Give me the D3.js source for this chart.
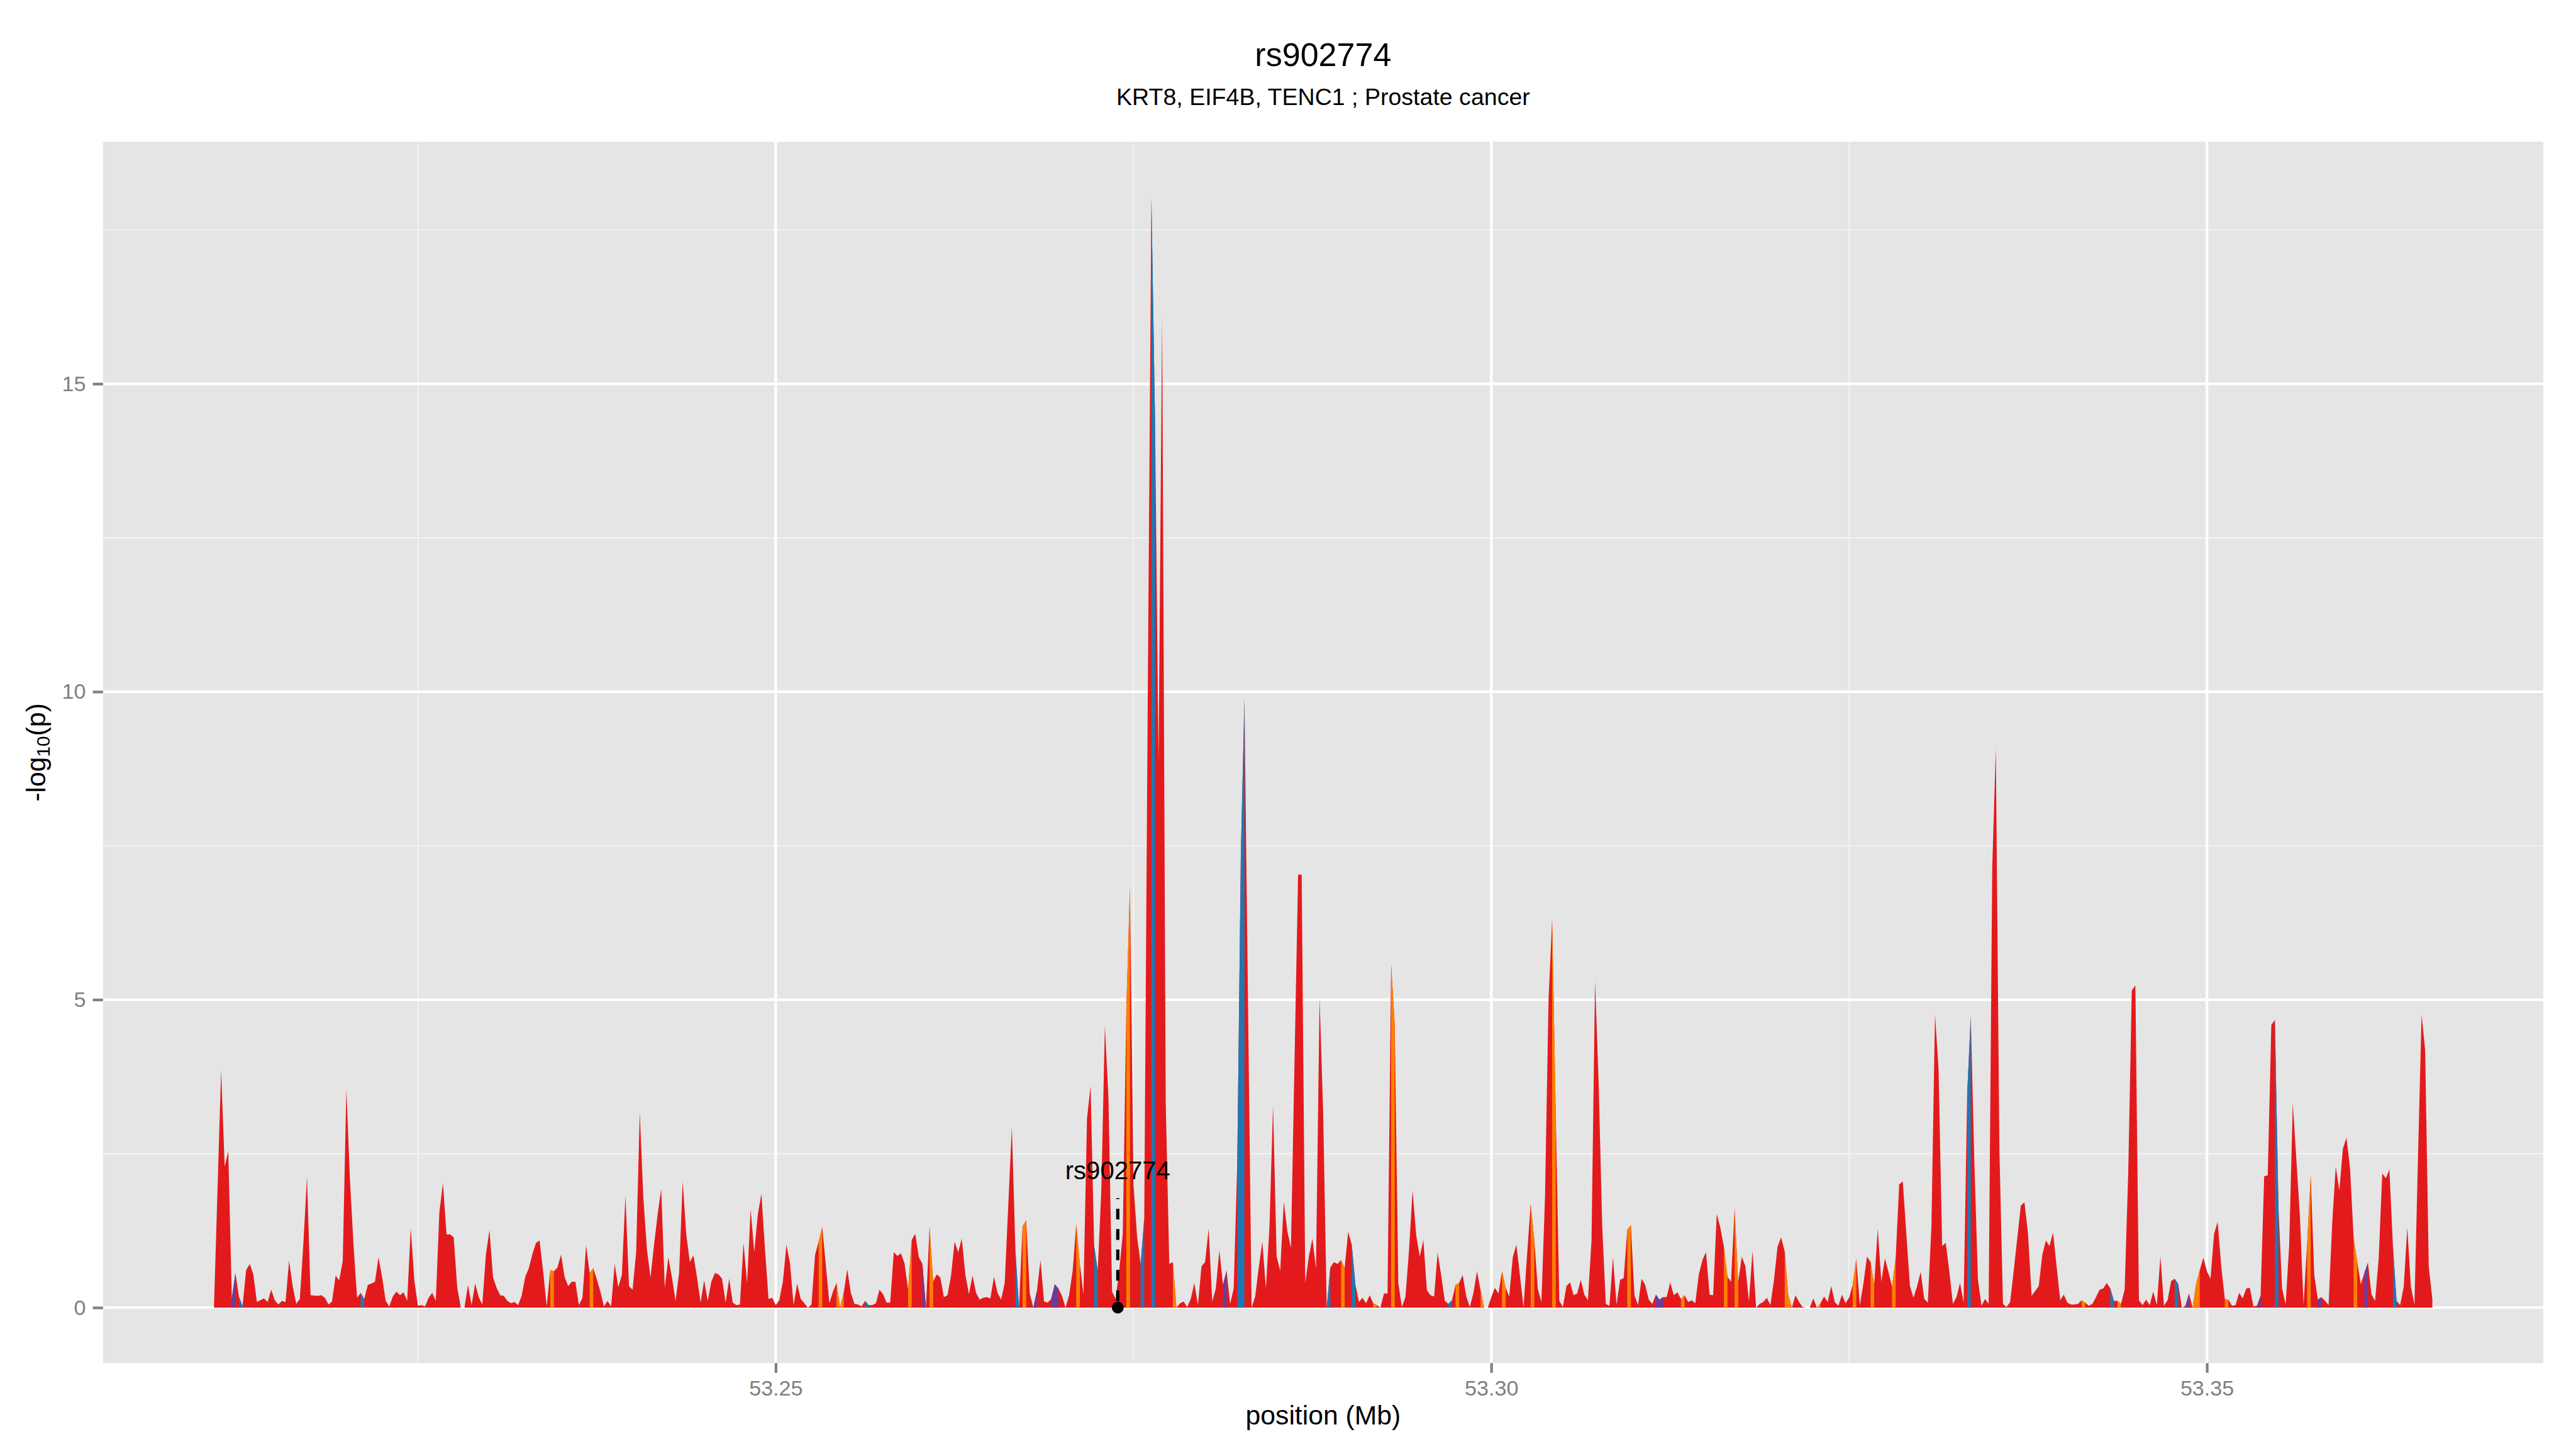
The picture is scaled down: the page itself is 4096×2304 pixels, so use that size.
<!DOCTYPE html>
<html>
<head>
<meta charset="utf-8">
<script src="https://cdn.jsdelivr.net/npm/d3@7"></script>
<style>
  html, body { margin: 0; padding: 0; background: #fff; }
  svg { display: block; }
</style>
</head>
<body>
<svg id="chart" width="4096" height="2304" viewBox="0 0 4800 2700"></svg>
<script>
// SNP positions (Mb) and -log10(p)
const positionMb = [
  53.21075,
  53.21125,53.2115,53.21175,53.212,53.21225,53.2125,53.21275,
  53.213,53.21325,53.2135,53.21375,53.21425,53.2145,53.21475,
  53.215,53.21525,53.2155,53.21575,53.216,53.21625,53.2165,53.21675,
  53.217,53.21725,53.2175,53.218,53.21825,53.2185,53.21875,
  53.219,53.21925,53.2195,53.21975,53.22,53.22025,53.2205,53.22075,
  53.221,53.22125,53.2215,53.22175,53.222,53.22225,53.2225,53.22275,
  53.223,53.22325,53.2235,53.22375,53.224,53.22425,53.2245,53.22475,
  53.225,53.22525,53.2255,53.22575,53.226,53.22625,53.2265,53.22675,
  53.227,53.22725,53.2275,53.22775,53.228,53.22825,53.2285,53.22875,
  53.229,53.22925,53.2295,53.22975,53.23,53.23025,53.2305,53.23075,
  53.231,53.23125,53.2315,53.23175,53.232,53.23225,53.2325,53.23275,
  53.233,53.23325,53.2335,53.23375,53.234,53.23425,53.2345,53.23475,
  53.235,53.23525,53.2355,53.23575,53.236,53.23625,53.2365,53.23675,
  53.237,53.23725,53.2375,53.23775,53.238,53.23825,53.2385,53.23875,
  53.239,53.23925,53.2395,53.23975,53.24,53.24025,53.2405,53.24075,
  53.241,53.24125,53.2415,53.24175,53.242,53.24225,53.2425,53.24275,
  53.243,53.24325,53.2435,53.24375,53.244,53.24425,53.2445,53.24475,
  53.245,53.24525,53.2455,53.24575,53.246,53.24625,53.2465,53.24675,
  53.247,53.24725,53.2475,53.24775,53.248,53.24825,53.2485,53.24875,
  53.249,53.24925,53.2495,53.24975,53.25,53.25025,53.2505,53.25075,
  53.251,53.25125,53.2515,53.25175,53.252,53.25225,53.2525,53.25275,
  53.253,53.25325,53.2535,53.25375,53.254,53.25425,53.2545,53.25475,
  53.255,53.25525,53.2555,53.25575,53.256,53.25625,53.2565,53.25675,
  53.257,53.25725,53.2575,53.25775,53.258,53.25825,53.2585,53.25875,
  53.259,53.25925,53.2595,53.25975,53.26,53.26025,53.2605,53.26075,
  53.261,53.26125,53.2615,53.26175,53.262,53.26225,53.2625,53.26275,
  53.263,53.26325,53.2635,53.26375,53.264,53.26425,53.2645,53.26475,
  53.265,53.26525,53.2655,53.26575,53.266,53.2665,53.26675,
  53.267,53.26725,53.2675,53.26775,53.268,53.26825,53.2685,53.26875,
  53.269,53.26925,53.2695,53.26975,53.27,53.27025,53.2705,53.27075,
  53.271,53.27125,53.2715,53.27175,53.272,53.27225,53.2725,53.27275,
  53.273,53.27325,53.2735,53.27375,53.274,53.27425,53.2745,53.27475,
  53.275,53.27525,53.2755,53.27575,53.276,53.27625,53.2765,53.27675,
  53.277,53.27725,53.2775,53.27775,53.278,53.27825,53.2785,53.27875,
  53.279,53.27925,53.2795,53.27975,53.28,53.28025,53.2805,53.28075,
  53.281,53.28125,53.2815,53.28175,53.282,53.28225,53.2825,53.28275,
  53.28325,53.2835,53.28375,53.284,53.28425,53.2845,53.28475,
  53.285,53.28525,53.2855,53.28575,53.286,53.2865,53.28675,
  53.287,53.28725,53.2875,53.28775,53.288,53.28825,53.2885,53.28875,
  53.289,53.28925,53.2895,53.28975,53.29,53.29025,53.2905,53.29075,
  53.291,53.29125,53.2915,53.29175,53.292,53.29225,53.2925,53.29275,
  53.293,53.29325,53.2935,53.29375,53.294,53.29425,53.2945,53.29475,
  53.295,53.29525,53.2955,53.29575,53.296,53.29625,53.2965,53.29675,
  53.297,53.29725,53.2975,53.29775,53.298,53.29825,53.2985,53.29875,
  53.299,53.29925,53.2995,53.29975,53.3,53.30025,53.3005,53.30075,
  53.301,53.30125,53.3015,53.30175,53.302,53.30225,53.3025,53.30275,
  53.303,53.30325,53.3035,53.30375,53.304,53.30425,53.3045,53.30475,
  53.305,53.30525,53.3055,53.30575,53.306,53.30625,53.3065,53.30675,
  53.307,53.30725,53.3075,53.30775,53.308,53.30825,53.3085,53.30875,
  53.309,53.30925,53.3095,53.30975,53.31,53.31025,53.3105,53.31075,
  53.311,53.31125,53.3115,53.31175,53.312,53.31225,53.3125,53.31275,
  53.313,53.31325,53.3135,53.31375,53.314,53.31425,53.3145,53.31475,
  53.315,53.31525,53.3155,53.31575,53.316,53.31625,53.3165,53.31675,
  53.317,53.31725,53.3175,53.31775,53.318,53.31825,53.3185,53.31875,
  53.319,53.31925,53.3195,53.31975,53.32,53.32025,53.3205,53.32075,
  53.321,53.32125,53.3215,53.32175,53.322,53.32225,53.3225,53.32275,
  53.323,53.32325,53.3235,53.32375,53.324,53.32425,53.3245,53.32475,
  53.325,53.32525,53.3255,53.32575,53.326,53.32625,53.3265,53.32675,
  53.327,53.32725,53.3275,53.32775,53.328,53.32825,53.3285,53.32875,
  53.329,53.32925,53.3295,53.32975,53.33,53.33025,53.3305,53.33075,
  53.331,53.33125,53.3315,53.33175,53.332,53.33225,53.3325,53.33275,
  53.333,53.33325,53.3335,53.33375,53.334,53.33425,53.3345,53.33475,
  53.335,53.33525,53.3355,53.33575,53.336,53.33625,53.3365,53.33675,
  53.337,53.33725,53.3375,53.33775,53.338,53.33825,53.3385,53.33875,
  53.339,53.33925,53.3395,53.33975,53.34,53.34025,53.3405,53.34075,
  53.341,53.34125,53.3415,53.34175,53.342,53.34225,53.3425,53.34275,
  53.343,53.34325,53.3435,53.34375,53.344,53.34425,53.3445,53.34475,
  53.345,53.34525,53.3455,53.34575,53.346,53.34625,53.3465,53.34675,
  53.347,53.34725,53.3475,53.34775,53.348,53.34825,53.3485,53.34875,
  53.349,53.34925,53.3495,53.34975,53.35,53.35025,53.3505,53.35075,
  53.351,53.35125,53.3515,53.35175,53.352,53.35225,53.3525,53.35275,
  53.353,53.35325,53.3535,53.35375,53.354,53.35425,53.3545,53.35475,
  53.355,53.35525,53.3555,53.35575,53.356,53.35625,53.3565,53.35675,
  53.357,53.35725,53.3575,53.35775,53.358,53.35825,53.3585,53.35875,
  53.359,53.35925,53.3595,53.35975,53.36,53.36025,53.3605,53.36075,
  53.361,53.36125,53.3615,53.36175,53.362,53.36225,53.3625,53.36275,
  53.363,53.36325,53.3635,53.36375,53.364,53.36425,53.3645,53.36475,
  53.365,53.36525,53.3655,53.36575
];
const log10p = [
  0,
  3.85,2.29,2.54,0.15,0.56,0.17,0.03,
  0.61,0.71,0.54,0.09,0.15,0.09,0.29,
  0.12,0.05,0.11,0.09,0.76,0.35,0.06,0.14,
  1.05,2.12,0.2,0.19,0.2,0.16,0.05,
  0.1,0.52,0.44,0.76,3.55,2.08,1.02,0.16,
  0.24,0.14,0.37,0.39,0.42,0.82,0.49,0.11,
  0.02,0.18,0.26,0.2,0.25,0.11,1.29,0.44,
  0.03,0.04,0.02,0.16,0.24,0.11,1.55,2.02,
  1.19,1.19,1.14,0.32,0,0,0.37,0.04,
  0.39,0.17,0.05,0.86,1.26,0.49,0.32,0.2,
  0.19,0.11,0.07,0.09,0.04,0.19,0.5,0.64,
  0.87,1.05,1.09,0.59,0.02,0.61,0.59,0.65,
  0.86,0.5,0.35,0.42,0.42,0.04,0.16,1.01,
  0.56,0.64,0.46,0.26,0.02,0.11,0.02,0.71,
  0.33,0.53,1.82,0.35,0.29,0.9,3.17,1.79,
  0.95,0.49,1.02,1.51,1.93,0.32,0.82,0.49,
  0.11,0.56,2.05,1.19,0.74,0.85,0.5,0.08,
  0.44,0.11,0.42,0.56,0.54,0.47,0.08,0.47,
  0.08,0.04,0.05,1.05,0.4,1.6,0.9,1.51,
  1.85,0.95,0.14,0.16,0.04,0.12,0.42,1.02,
  0.72,0.04,0.39,0.14,0.07,0,0.05,0.86,
  1.07,1.31,0.69,0.07,0.26,0.4,0,0.24,
  0.62,0.24,0.06,0.05,0.02,0.11,0.04,0.04,
  0.07,0.29,0.22,0.08,0.08,0.9,0.84,0.88,
  0.72,0.29,1.1,1.2,0.82,0.71,0,1.32,
  0.42,0.54,0.49,0.17,0.2,0.52,1.07,0.9,
  1.12,0.54,0.22,0.52,0.24,0.13,0.16,0.17,
  0.15,0.5,0.24,0.13,0.4,2.93,0.92,
  0,1.32,1.42,0.23,0,0.27,0.77,0.1,
  0.08,0.14,0.38,0.31,0.19,0,0.2,0.6,
  1.36,0.71,0.22,3.07,3.6,1.0,0.6,1.9,
  4.58,3.4,0.26,0.14,0.6,1.2,4.87,6.82,
  1.99,1.15,0.71,1.45,10.06,18.03,14.46,8.84,
  16.11,3.34,0.71,0.74,0,0.07,0.1,0.01,
  0.14,0.4,0.04,0.67,0.74,1.28,0.1,0.31,
  0.93,0.37,0.6,0.06,0.31,2.36,7.37,9.88,
  0,0.18,0.65,1.07,0.31,1.32,3.28,
  0.83,0.6,1.72,1.24,0.97,7.03,7.03,
  0.4,0.83,1.12,0.63,5.03,3.17,0,0.65,
  0.74,0.71,0.77,0.64,1.23,1.02,0.38,0.09,
  0.16,0.07,0.2,0.07,0.04,0,0.23,0.23,
  5.57,4.6,0.4,0.01,0.17,0.93,1.9,1.18,
  0.83,1.1,0.28,0.2,0.18,0.89,0.52,0.11,
  0.06,0.12,0.37,0.4,0.53,0.18,0.01,0.24,
  0.59,0.28,0,0,0.17,0.32,0.23,0.59,
  0.32,0.18,0.82,1.02,0.52,0.01,0.86,1.69,
  1.11,0.3,0.09,1.79,5.01,6.3,3.17,0.11,
  0.01,0.35,0.41,0.2,0.23,0.45,0.21,0.12,
  1.09,5.31,3.63,1.32,0.06,0.03,0.81,0.05,
  0.45,0.48,1.26,1.34,0.2,0.04,0.47,0.37,
  0.13,0.06,0.21,0.13,0.17,0.17,0.41,0.2,
  0.25,0.14,0.2,0.09,0.12,0.07,0.54,0.77,
  0.9,0.21,0.2,1.52,1.3,0.99,0.5,0.42,
  1.61,0.41,0.83,0.67,0.1,0.92,0,0.06,
  0.09,0.16,0.04,0.45,0.99,1.14,0.91,0.2,
  0,0.2,0.09,0.01,0,0,0.15,0,
  0.07,0.18,0.09,0.35,0.09,0.03,0.21,0.07,
  0.16,0.37,0.79,0.04,0.39,0.83,0.74,0.37,
  1.28,0.42,0.8,0.58,0.34,0.79,2.0,2.05,
  1.19,0.35,0.16,0.35,0.58,0.14,0.08,1.31,
  4.76,3.87,1.0,1.05,0.59,0.06,0.17,0.4,
  0.08,3.48,4.73,2.37,0.45,0.03,0.14,0.06,
  7.15,9.08,2.56,0.06,0.01,0.09,0.6,1.13,
  1.66,1.71,1.2,0.19,0.27,0.35,0.86,1.09,
  1.0,1.22,0.66,0.12,0.21,0.08,0.05,0.05,
  0.06,0.12,0.08,0.03,0.06,0.17,0.29,0.31,
  0.4,0.31,0.11,0.11,0.06,0.29,2.17,5.15,
  5.23,0.12,0.04,0.13,0.04,0.26,0.04,0.83,
  0.03,0.12,0.43,0.47,0.38,0,0.03,0.23,
  0,0.39,0.61,0.81,0.59,0.47,1.2,1.39,
  0.67,0.14,0.13,0.03,0.04,0.24,0.15,0.31,
  0.32,0.02,0.03,0.19,2.13,2.15,4.59,4.67,
  1.62,0.31,0.05,1.02,3.32,2.4,1.47,0.05,
  1.03,2.14,0.53,0.13,0.17,0.11,0.04,1.36,
  2.29,1.9,2.58,2.76,2.26,1.13,0.75,0.38,
  0.56,0.73,0.21,0.11,0.79,2.18,2.1,2.24,
  0.98,0.11,0.04,0.34,1.3,0.34,0.05,2.47,
  4.76,4.17,0.66,0.14
];

// stretches of the profile filled in another group colour
const bandStart = [53.212,53.2125,53.221,53.23425,53.237,53.253,53.25425,53.25625,53.25925,53.26025,
  53.26075,53.26675,53.26725,53.268,53.26925,53.271,53.27225,53.2745,53.2755,53.27625,
  53.27775,53.28125,53.28225,53.2885,53.2895,53.29025,53.29175,53.293,53.297,53.2975,
  53.29925,53.30075,53.30275,53.30425,53.3095,53.3115,53.31325,53.31625,53.317,53.3205,
  53.32175,53.32275,53.32525,53.3265,53.328,53.33325,53.34125,53.34325,53.34375,53.34775,
  53.3485,53.349,53.35125,53.3535,53.35475,53.357,53.35775,53.36025,53.361,53.363];
const bandEnd = [53.21225,53.21275,53.22125,53.2345,53.23725,53.25325,53.25475,53.2565,53.2595,53.2605,
  53.261,53.267,53.2675,53.26825,53.26975,53.27125,53.2725,53.27475,53.27575,53.2765,
  53.278,53.2815,53.28275,53.28875,53.28975,53.2905,53.292,53.29325,53.29725,53.29775,
  53.2995,53.301,53.303,53.3045,53.30975,53.312,53.3135,53.3165,53.31725,53.321,
  53.322,53.323,53.3255,53.32675,53.32825,53.3335,53.3415,53.3435,53.344,53.348,
  53.34875,53.3495,53.3515,53.35375,53.355,53.35725,53.358,53.3605,53.36125,53.36325];
const bandGroup = ["C","B","B","A","A","A","A","B","A","C",
  "A","B","A","C","C","A","B","A","B","B",
  "A","C","B","B","A","B","A","A","B","A",
  "A","A","A","A","A","C","A","A","A","A",
  "A","A","A","A","A","B","A","B","A","B",
  "C","A","A","C","B","A","C","A","C","B"];

const snpName = "rs902774";
const snpPos = 53.2739;
const snpLabelLevel = 2.09;
const snpSegmentTop = 1.78;

const xTicks = [53.25, 53.30, 53.35];
const xMinor = [53.225, 53.275, 53.325];
const yTicks = [0, 5, 10, 15];
const yMinor = [2.5, 7.5, 12.5, 17.5];

const titleText = "rs902774";
const subtitleText = "KRT8, EIF4B, TENC1 ; Prostate cancer";
const xTitle = "position (Mb)";

const FONT = "'Liberation Sans', Arial, Helvetica, sans-serif";
const groupColor = { base: "#E31A1C", A: "#FF7F00", B: "#1F78B4", C: "#6A3D9A" };

const svg = d3.select("#chart");
const panel = { left: 192, right: 4739, top: 264, bottom: 2540 };

const points = positionMb.map((p, i) => ({ pos: p, v: log10p[i] }));

// ggplot-style 5% expansion
const xExt = d3.extent(positionMb);
const xPad = (xExt[1] - xExt[0]) * 0.05;
const x = d3.scaleLinear().domain([xExt[0] - xPad, xExt[1] + xPad]).range([panel.left, panel.right]);
const yMax = d3.max(log10p);
const y = d3.scaleLinear().domain([-yMax * 0.05, yMax * 1.05]).range([panel.bottom, panel.top]);

svg.append("rect").attr("width", 4800).attr("height", 2700).attr("fill", "#fff");
svg.append("rect")
  .attr("x", panel.left).attr("y", panel.top)
  .attr("width", panel.right - panel.left).attr("height", panel.bottom - panel.top)
  .attr("fill", "#E5E5E5");

svg.append("clipPath").attr("id", "panelClip")
  .append("rect")
  .attr("x", panel.left).attr("y", panel.top)
  .attr("width", panel.right - panel.left).attr("height", panel.bottom - panel.top);

const grid = svg.append("g");
grid.selectAll(".vminor").data(xMinor).enter().append("line")
  .attr("x1", d => x(d)).attr("x2", d => x(d))
  .attr("y1", panel.top).attr("y2", panel.bottom)
  .attr("stroke", "#F2F2F2").attr("stroke-width", 2.5);
grid.selectAll(".hminor").data(yMinor).enter().append("line")
  .attr("y1", d => y(d)).attr("y2", d => y(d))
  .attr("x1", panel.left).attr("x2", panel.right)
  .attr("stroke", "#F2F2F2").attr("stroke-width", 2.5);
grid.selectAll(".vmajor").data(xTicks).enter().append("line")
  .attr("x1", d => x(d)).attr("x2", d => x(d))
  .attr("y1", panel.top).attr("y2", panel.bottom)
  .attr("stroke", "#fff").attr("stroke-width", 5);
grid.selectAll(".hmajor").data(yTicks).enter().append("line")
  .attr("y1", d => y(d)).attr("y2", d => y(d))
  .attr("x1", panel.left).attr("x2", panel.right)
  .attr("stroke", "#fff").attr("stroke-width", 5);

const area = d3.area()
  .x(d => x(d.pos))
  .y0(y(0))
  .y1(d => y(d.v));

const plot = svg.append("g").attr("clip-path", "url(#panelClip)");

plot.append("path")
  .datum(points)
  .attr("d", area)
  .attr("fill", groupColor.base);

bandStart.forEach((s, i) => {
  const e = bandEnd[i];
  const seg = points.filter(d => d.pos >= s - 1e-7 && d.pos <= e + 1e-7);
  if (seg.length < 2) return;
  plot.append("path")
    .datum(seg)
    .attr("d", area)
    .attr("fill", groupColor[bandGroup[i]]);
});

// annotated SNP
plot.append("line")
  .attr("x1", x(snpPos)).attr("x2", x(snpPos))
  .attr("y1", y(snpSegmentTop)).attr("y2", y(0))
  .attr("stroke", "#000").attr("stroke-width", 6)
  .attr("stroke-dasharray", "20,18").attr("stroke-dashoffset", 18);
plot.append("circle")
  .attr("cx", x(snpPos)).attr("cy", y(0)).attr("r", 11)
  .attr("fill", "#000");
plot.append("text")
  .attr("x", x(snpPos)).attr("y", y(snpLabelLevel))
  .attr("text-anchor", "middle")
  .attr("font-family", FONT).attr("font-size", 47)
  .attr("fill", "#000")
  .text(snpName);

// axes
const gx = svg.append("g")
  .attr("transform", "translate(0," + panel.bottom + ")")
  .call(d3.axisBottom(x).tickValues(xTicks).tickFormat(d3.format(".2f")).tickSize(18).tickPadding(14));
gx.select(".domain").remove();
gx.selectAll(".tick line").attr("stroke", "#7F7F7F").attr("stroke-width", 5);
gx.selectAll(".tick text").attr("fill", "#7F7F7F").attr("font-size", 40).attr("font-family", FONT);

const gy = svg.append("g")
  .attr("transform", "translate(" + panel.left + ",0)")
  .call(d3.axisLeft(y).tickValues(yTicks).tickFormat(d3.format("d")).tickSize(19).tickPadding(13));
gy.select(".domain").remove();
gy.selectAll(".tick line").attr("stroke", "#7F7F7F").attr("stroke-width", 5);
gy.selectAll(".tick text").attr("fill", "#7F7F7F").attr("font-size", 40).attr("font-family", FONT);

// titles
const cx = (panel.left + panel.right) / 2;
svg.append("text")
  .attr("x", cx).attr("y", 123)
  .attr("text-anchor", "middle")
  .attr("font-family", FONT).attr("font-size", 61).attr("fill", "#000")
  .text(titleText);
svg.append("text")
  .attr("x", cx).attr("y", 196)
  .attr("text-anchor", "middle")
  .attr("font-family", FONT).attr("font-size", 44).attr("fill", "#000")
  .text(subtitleText);

svg.append("text")
  .attr("x", cx).attr("y", 2654)
  .attr("text-anchor", "middle")
  .attr("font-family", FONT).attr("font-size", 50).attr("fill", "#000")
  .text(xTitle);

const yt = svg.append("text")
  .attr("transform", "translate(84," + ((panel.top + panel.bottom) / 2) + ") rotate(-90)")
  .attr("text-anchor", "middle")
  .attr("font-family", FONT).attr("font-size", 50).attr("fill", "#000");
yt.append("tspan").text("-log");
yt.append("tspan").attr("font-size", 35).attr("dy", 9).text("10");
yt.append("tspan").attr("dy", -9).text("(p)");
</script>
</body>
</html>
